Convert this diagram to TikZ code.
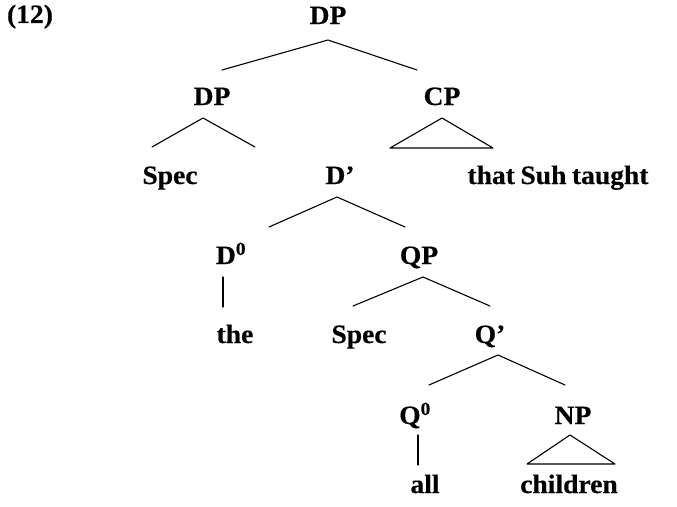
\documentclass[tikz,border=0pt]{standalone}
\usepackage{fontspec}
\setmainfont[FakeStretch=1.04,FakeBold=0.4,WordSpace=0.8]{Liberation Serif}
\usetikzlibrary{calc}
\begin{document}
\begin{tikzpicture}[x=1pt,y=-1pt,
  lbl/.style={font=\fontsize{26.5}{28}\selectfont\bfseries, inner sep=0pt, anchor=base},
  branch/.style={line width=1.1pt, line cap=round, line join=round}]
\useasboundingbox (0,0) rectangle (677,506);

% labels, placed by their baselines
\node[lbl] (ex)       at (30,23)   {(12)};
\node[lbl] (dpT)      at (328,24)  {DP};
\node[lbl] (dpL)      at (212,105) {DP};
\node[lbl] (cp)       at (442,105) {CP};
\node[lbl] (spec1)    at (170,184) {Spec};
\node[lbl] (dbar)     at (340,184) {D'};
\node[lbl] (cpt)      at (558,184) {that Suh taught};
\node[lbl] (d0)       at (231,264) {D\textsuperscript{0}};
\node[lbl] (qp)       at (419,264) {QP};
\node[lbl] (the)      at (235,343) {the};
\node[lbl] (spec2)    at (359,343) {Spec};
\node[lbl] (qbar)     at (490,343) {Q'};
\node[lbl] (q0)       at (415,424) {Q\textsuperscript{0}};
\node[lbl] (np)       at (573,424) {NP};
\node[lbl] (all)      at (425,493) {all};
\node[lbl] (children) at (569,493) {children};

% DP -> DP CP
\draw[branch] ($(dpL.base)+(10,-35)$) -- ($(dpT.base)+(0,16)$) -- ($(cp.base)+(-25,-35)$);
% DP -> Spec D'
\draw[branch] ($(spec1.base)+(-18,-37)$) -- ($(dpL.base)+(-9,13)$) -- ($(dbar.base)+(-85,-37)$);
% CP triangle
\draw[branch] ($(cp.base)+(0,13)$) -- ($(cpt.base)+(-168,-36)$) -- ($(cpt.base)+(-65,-36)$) -- cycle;
% D' -> D0 QP
\draw[branch] ($(d0.base)+(38,-37)$) -- ($(dbar.base)+(-3,13)$) -- ($(qp.base)+(-14,-37)$);
% D0 -> the
\draw[branch] ($(d0.base)+(-8,13)$) -- ($(the.base)+(-12,-36)$);
% QP -> Spec Q'
\draw[branch] ($(spec2.base)+(-6,-37)$) -- ($(qp.base)+(4,13)$) -- ($(qbar.base)+(0,-37)$);
% Q' -> Q0 NP
\draw[branch] ($(q0.base)+(14,-39)$) -- ($(qbar.base)+(8,12)$) -- ($(np.base)+(-8,-39)$);
% Q0 -> all
\draw[branch] ($(q0.base)+(3,11)$) -- ($(all.base)+(-7,-28)$);
% NP triangle
\draw[branch] ($(np.base)+(-3,11)$) -- ($(children.base)+(-42,-29)$) -- ($(children.base)+(46,-29)$) -- cycle;
\end{tikzpicture}
\end{document}
